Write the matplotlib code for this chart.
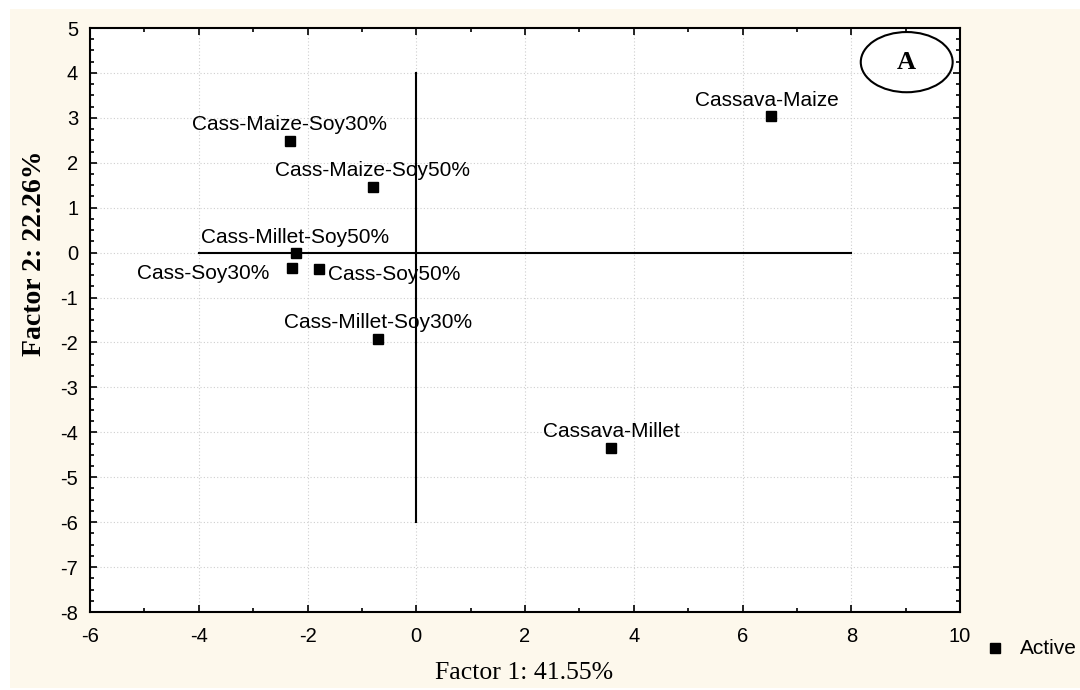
import matplotlib
matplotlib.use("Agg")
import matplotlib.pyplot as plt
from matplotlib.patches import Ellipse, Rectangle
from matplotlib.ticker import MultipleLocator

# ---- data ----
labels = ["Cassava-Maize", "Cass-Maize-Soy30%", "Cass-Maize-Soy50%", "Cass-Millet-Soy50%",
          "Cass-Soy30%", "Cass-Soy50%", "Cass-Millet-Soy30%", "Cassava-Millet"]
factor1 = [6.53, -2.33, -0.80, -2.22, -2.29, -1.79, -0.70, 3.59]
factor2 = [3.05, 2.49, 1.46, 0.00, -0.35, -0.37, -1.92, -4.35]
x_ticks = [-6, -4, -2, 0, 2, 4, 6, 8, 10]
y_ticks = [-8, -7, -6, -5, -4, -3, -2, -1, 0, 1, 2, 3, 4, 5]
x_label = "Factor 1: 41.55%"
y_label = "Factor 2: 22.26%"
legend_label = "Active"
panel_letter = "A"

# label placement (offset pixels, ha, va)
placement = {
    "Cassava-Maize": (-4, 10, "center", "baseline"),
    "Cass-Maize-Soy30%": (0, 11, "center", "baseline"),
    "Cass-Maize-Soy50%": (0, 11, "center", "baseline"),
    "Cass-Millet-Soy50%": (0, 10, "center", "baseline"),
    "Cass-Soy30%": (-22, -11, "right", "baseline"),
    "Cass-Soy50%": (9, -11, "left", "baseline"),
    "Cass-Millet-Soy30%": (0, 11, "center", "baseline"),
    "Cassava-Millet": (0, 11, "center", "baseline"),
}

sans = ["Liberation Sans", "DejaVu Sans"]
serif = ["Liberation Serif", "DejaVu Serif"]
bg = "#FDF8EC"

fig = plt.figure(figsize=(10.8, 6.9), dpi=100)
fig.patch.set_facecolor("white")
fig.patches.append(Rectangle((10 / 1080, 2 / 690), 1 - 10 / 1080, 1 - 11 / 690,
                             transform=fig.transFigure, facecolor=bg, edgecolor="none", zorder=-5))

ax = fig.add_axes([90 / 1080, 1 - 612 / 690, 870 / 1080, 584 / 690])
ax.set_zorder(1)
ax.set_facecolor("white")

ax.set_xticks(x_ticks)
ax.set_yticks(y_ticks)
ax.set_xticklabels([str(v) for v in x_ticks], fontfamily=sans, fontsize=14.5)
ax.set_yticklabels([str(v) for v in y_ticks], fontfamily=sans, fontsize=14.5)
ax.xaxis.set_minor_locator(MultipleLocator(1))
ax.yaxis.set_minor_locator(MultipleLocator(0.25))
ax.tick_params(which="both", direction="in", top=True, right=True, width=1.2, color="black")
ax.tick_params(which="major", length=5)
ax.tick_params(which="minor", length=3)
ax.tick_params(axis="x", which="major", pad=11)
ax.tick_params(axis="y", which="major", pad=8.5)
ax.set_xlim(-6, 10)
ax.set_ylim(-8, 5)

for s in ax.spines.values():
    s.set_linewidth(1.5)
    s.set_color("black")

ax.grid(True, which="major", linestyle=(0, (1, 2)), color="#cfcfcf", linewidth=0.8)
ax.set_axisbelow(True)

# cross lines
ax.plot([-4, 8], [0, 0], color="black", linewidth=1.5, zorder=2)
ax.plot([0, 0], [-6, 4], color="black", linewidth=1.5, zorder=2)

ax.plot(factor1, factor2, linestyle="none", marker="s", markersize=7.5,
        color="black", zorder=3)

for name, xv, yv in zip(labels, factor1, factor2):
    dx, dy, ha, va = placement[name]
    ax.annotate(name, (xv, yv), xytext=(dx, dy), textcoords="offset pixels",
                ha=ha, va=va, fontsize=15, fontfamily=sans, color="black", zorder=4)

# panel letter in ellipse
ax.add_patch(Ellipse((9.02, 4.24), 1.69, 1.34, facecolor="none", edgecolor="black",
                     linewidth=1.5, zorder=4))
ax.text(9.02, 4.24, panel_letter, ha="center", va="center", fontsize=19,
        fontweight="bold", fontfamily=serif, zorder=5)

# axis labels
fig.text(524 / 1080, 1 - 673 / 690, x_label, ha="center", va="center",
         fontsize=18.5, fontfamily=serif)
fig.text(35 / 1080, 1 - 253 / 690, y_label, ha="center", va="center", rotation=90,
         fontsize=20, fontweight="bold", fontfamily=serif)

# legend
fig.lines.append(plt.Line2D([995 / 1080], [1 - 648 / 690], transform=fig.transFigure,
                            marker="s", markersize=7.5, color="black", linestyle="none"))
fig.text(1020 / 1080, 1 - 648 / 690, legend_label, ha="left", va="center",
         fontsize=15, fontfamily=sans)

fig.savefig("out.png", dpi=100, facecolor=fig.get_facecolor())
